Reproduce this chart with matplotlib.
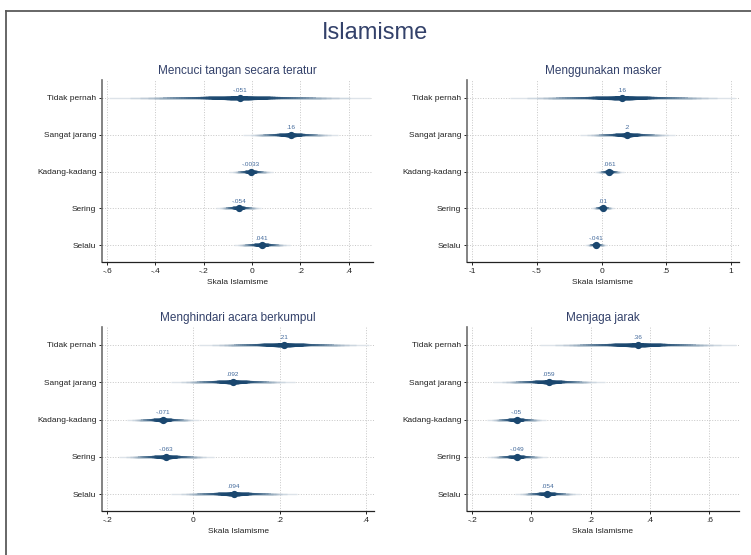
import numpy as np
import matplotlib.pyplot as plt
from matplotlib.lines import Line2D
from statistics import NormalDist

plt.rcParams['font.family'] = ['Liberation Sans', 'DejaVu Sans']

# categories (top to bottom)
categories = ["Tidak pernah", "Sangat jarang", "Kadang-kadang", "Sering", "Selalu"]

# panel titles
titles = ["Mencuci tangan secara teratur", "Menggunakan masker",
          "Menghindari acara berkumpul", "Menjaga jarak"]

# point estimates per panel
est_cuci = [-0.051, 0.16, -0.0033, -0.054, 0.041]
est_masker = [0.16, 0.2, 0.061, 0.01, -0.041]
est_kumpul = [0.21, 0.092, -0.071, -0.063, 0.094]
est_jarak = [0.36, 0.059, -0.05, -0.049, 0.054]

# outer (99%) confidence bounds
lo_cuci = [-0.59, -0.039, -0.094, -0.146, -0.077]
hi_cuci = [0.49, 0.353, 0.086, 0.040, 0.157]
lo_masker = [-0.71, -0.17, -0.05, -0.077, -0.125]
hi_masker = [1.03, 0.57, 0.17, 0.098, 0.043]
lo_kumpul = [0.012, -0.050, -0.154, -0.174, -0.054]
hi_kumpul = [0.408, 0.236, 0.014, 0.046, 0.240]
lo_jarak = [0.028, -0.129, -0.148, -0.152, -0.056]
hi_jarak = [0.691, 0.247, 0.048, 0.051, 0.163]

# x ticks per panel
ticks_cuci = [-0.6, -0.4, -0.2, 0, 0.2, 0.4]
ticks_masker = [-1, -0.5, 0, 0.5, 1]
ticks_kumpul = [-0.2, 0, 0.2, 0.4]
ticks_jarak = [-0.2, 0, 0.2, 0.4, 0.6]

panels = [
    (est_cuci, lo_cuci, hi_cuci, ticks_cuci, (-0.621, 0.501)),
    (est_masker, lo_masker, hi_masker, ticks_masker, (-1.041, 1.064)),
    (est_kumpul, lo_kumpul, hi_kumpul, ticks_kumpul, (-0.212, 0.419)),
    (est_jarak, lo_jarak, hi_jarak, ticks_jarak, (-0.217, 0.70)),
]

W, H = 751, 555
boxes = [  # left, top, right, bottom in pixels
    (102, 80, 373, 262),
    (467, 80, 739, 262),
    (102, 327, 374, 511),
    (467, 327, 739, 511),
]

navy = np.array([26, 71, 111]) / 255
title_col = '#33416a'


def stata_fmt(v):
    s = f"{v:.2g}"
    if s.startswith("0."):
        s = s[1:]
    s = s.replace("-0.", "-.")
    return s


def tick_fmt(v):
    s = f"{v:g}"
    if s.startswith("0."):
        s = s[1:]
    return s.replace("-0.", "-.")


# smooth CI settings (like coefplot cismooth)
nd = NormalDist()
levels = np.linspace(1, 99, 50)
zs = np.array([nd.inv_cdf(0.5 + l / 200) for l in levels])
z99 = nd.inv_cdf(0.995)
s = np.linspace(0, 1, len(levels))
lws = 1.0 + 1.9 * (1 - s) ** 1.5
tint = 1 - 0.85 * s ** 4

fig = plt.figure(figsize=(W / 100, H / 100), dpi=100)
fig.patch.set_facecolor('white')

# outer frame (top and left edges)
fig.add_artist(Line2D([5.5 / W, 1], [1 - 10.5 / H, 1 - 10.5 / H], color='#5a5a5a', lw=1.3))
fig.add_artist(Line2D([5.5 / W, 5.5 / W], [0, 1 - 10.5 / H], color='#5a5a5a', lw=1.3))

fig.text(0.5, 1 - 33 / H, "Islamisme", ha='center', va='center', fontsize=17, color=title_col)

ypos = np.arange(1, len(categories) + 1)

for (est, lo, hi, ticks, xl), (l, t, r, b), ttl in zip(panels, boxes, titles):
    ax = fig.add_axes([l / W, 1 - b / H, (r - l) / W, (b - t) / H])
    ax.set_xlim(*xl)
    ax.set_ylim(5.45, 0.52)

    for v in ticks:
        ax.axvline(v, color='#c6c6c6', lw=0.7, ls=':', zorder=0)
    for y in ypos:
        ax.axhline(y, color='#c6c6c6', lw=0.7, ls=':', zorder=0)

    for y, e, a, c in zip(ypos, est, lo, hi):
        se = (c - a) / (2 * z99)
        for i in range(len(levels) - 1, -1, -1):
            col = 1 - tint[i] * (1 - navy)
            ax.hlines(y, e - zs[i] * se, e + zs[i] * se, lw=lws[i], color=col,
                      capstyle='butt', zorder=2)
        ax.plot(e, y, 'o', ms=4.2, color=navy, zorder=3)
        ax.annotate(stata_fmt(e), (e, y), xytext=(0, 3.5), textcoords='offset points',
                    ha='center', va='bottom', fontsize=4.6, color='#41689a')

    ax.set_yticks(ypos)
    ax.set_yticklabels(categories, fontsize=6, color='#222222')
    ax.set_xticks(ticks)
    ax.set_xticklabels([tick_fmt(v) for v in ticks], fontsize=6, color='#222222')
    ax.set_xlabel("Skala Islamisme", fontsize=6, color='#222222', labelpad=3)
    ax.set_title(ttl, fontsize=8.5, color=title_col, pad=4)

    for sp in ['top', 'right']:
        ax.spines[sp].set_visible(False)
    ax.spines['left'].set_color('#6e6e6e')
    ax.spines['left'].set_linewidth(1.2)
    ax.spines['bottom'].set_color('#222222')
    ax.spines['bottom'].set_linewidth(0.9)
    ax.tick_params(axis='both', length=2.5, width=0.7, pad=1.5, colors='#222222')

fig.savefig("out.png", dpi=100)
